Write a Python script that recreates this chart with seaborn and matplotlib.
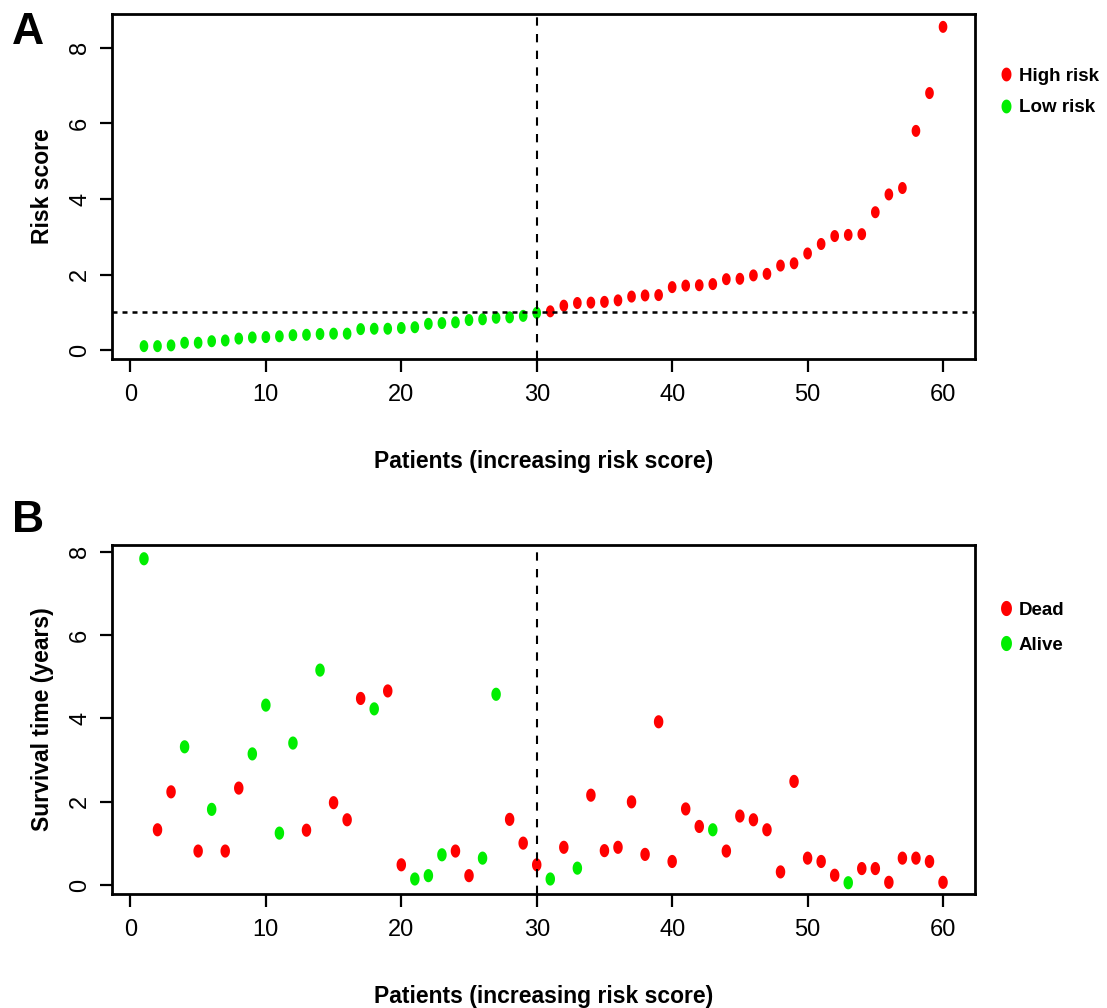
import numpy as np
import pandas as pd
import matplotlib
matplotlib.use("Agg")
import matplotlib.pyplot as plt
from matplotlib.path import Path
import seaborn as sns

sns.set_theme(style="white")
plt.rcParams["font.family"] = ["Liberation Sans", "DejaVu Sans"]
plt.rcParams["text.color"] = "black"
plt.rcParams["axes.labelcolor"] = "black"
plt.rcParams["xtick.color"] = "black"
plt.rcParams["ytick.color"] = "black"

# Risk scores of patients, sorted ascending
risk_score = [0.11, 0.11, 0.13, 0.20, 0.20, 0.24, 0.26, 0.31, 0.34, 0.35,
              0.37, 0.40, 0.41, 0.43, 0.44, 0.44, 0.56, 0.57, 0.57, 0.59,
              0.61, 0.70, 0.72, 0.74, 0.80, 0.82, 0.86, 0.87, 0.91, 0.99,
              1.03, 1.18, 1.25, 1.26, 1.28, 1.32, 1.42, 1.45, 1.46, 1.67,
              1.71, 1.72, 1.75, 1.88, 1.89, 1.98, 2.02, 2.24, 2.30, 2.56,
              2.81, 3.02, 3.05, 3.07, 3.65, 4.12, 4.29, 5.80, 6.80, 8.55]
# Survival time in years, same patient order
survival_time = [7.83, 1.33, 2.24, 3.32, 0.82, 1.82, 0.82, 2.33, 3.15, 4.32,
                 1.25, 3.41, 1.32, 5.16, 1.98, 1.57, 4.48, 4.23, 4.66, 0.49,
                 0.15, 0.23, 0.73, 0.82, 0.23, 0.65, 4.58, 1.58, 1.01, 0.49,
                 0.15, 0.91, 0.41, 2.16, 0.83, 0.91, 2.00, 0.74, 3.92, 0.57,
                 1.83, 1.41, 1.33, 0.82, 1.66, 1.57, 1.33, 0.32, 2.49, 0.65,
                 0.57, 0.24, 0.06, 0.40, 0.40, 0.07, 0.65, 0.65, 0.57, 0.07]
# Vital status (1 = dead, 0 = alive)
status = [0, 1, 1, 0, 1, 0, 1, 1, 0, 0,
          0, 0, 1, 0, 1, 1, 1, 0, 1, 1,
          0, 0, 0, 1, 1, 0, 0, 1, 1, 1,
          0, 1, 0, 1, 1, 1, 1, 1, 1, 1,
          1, 1, 0, 1, 1, 1, 1, 1, 1, 1,
          1, 1, 0, 1, 1, 1, 1, 1, 1, 1]
cutoff = 1.0
split_at = 30

patients = np.arange(1, len(risk_score) + 1)
df = pd.DataFrame({
    "patient": patients,
    "risk": risk_score,
    "time": survival_time,
    "group": ["High risk" if r > cutoff else "Low risk" for r in risk_score],
    "state": ["Dead" if s == 1 else "Alive" for s in status],
})

RED, GREEN = "#ff0000", "#00ee00"

# slightly tall ellipse used as dot marker
t = np.linspace(0, 2 * np.pi, 60)
ell = Path(np.column_stack([0.36 * np.cos(t), 0.5 * np.sin(t)]), closed=True)

fig = plt.figure(figsize=(11.07, 10.08), dpi=100)
W, H = 1107, 1008


def axes_px(l, t_, r, b):
    return fig.add_axes([l / W, 1 - b / H, (r - l) / W, (b - t_) / H])


axA = axes_px(112, 14, 975, 359)
axB = axes_px(112, 545, 975, 894)


def style(ax, ylab):
    for s in ax.spines.values():
        s.set_visible(True)
        s.set_color("black")
        s.set_linewidth(2.0)
    ax.set_xticks([0, 10, 20, 30, 40, 50, 60])
    ax.tick_params(axis="both", direction="out", length=9, width=1.6,
                   labelsize=17, bottom=True, left=True)
    ax.tick_params(axis="x", pad=9)
    ax.tick_params(axis="y", pad=6)
    for lab in ax.get_yticklabels():
        lab.set_rotation(90)
        lab.set_va("center")
    ax.set_xlabel("Patients (increasing risk score)", fontsize=16.5,
                  fontweight="bold", labelpad=32)
    ax.set_ylabel(ylab, fontsize=16.5, fontweight="bold", labelpad=11)
    ax.grid(False)


# Panel A: risk score distribution
sns.scatterplot(data=df, x="patient", y="risk", hue="group",
                hue_order=["High risk", "Low risk"],
                palette={"High risk": RED, "Low risk": GREEN},
                marker=ell, s=75, linewidth=0, ax=axA, legend=True)
axA.set_xlim(-1.36, 62.36)
axA.set_ylim(-0.23, 8.89)
axA.set_yticks([0, 2, 4, 6, 8])
axA.axvline(split_at, color="black", ls=(0, (4, 4)), lw=1.5)
axA.axhline(cutoff, color="black", ls=(0, (2, 2)), lw=1.8)
style(axA, "Risk score")

# Panel B: survival status
sns.scatterplot(data=df, x="patient", y="time", hue="state",
                hue_order=["Dead", "Alive"],
                palette={"Dead": RED, "Alive": GREEN},
                marker=ell, s=90, linewidth=0, ax=axB, legend=True)
axB.set_xlim(-1.36, 62.36)
axB.set_ylim(-0.21, 8.16)
axB.set_yticks([0, 2, 4, 6, 8])
axB.axvline(split_at, color="black", ls=(0, (4, 4)), lw=1.5)
style(axB, "Survival time (years)")

for ax, y, gap in ((axA, 92, 0.75), (axB, 627.5, 0.95)):
    sns.move_legend(ax, "center left", bbox_to_anchor=(998 / W, 1 - y / H),
                    bbox_transform=fig.transFigure, frameon=False, title=None,
                    fontsize=13.5, handlelength=0.8, handletextpad=0.3,
                    borderpad=0, borderaxespad=0, labelspacing=gap,
                    markerscale=1.15)
    for txt in ax.get_legend().get_texts():
        txt.set_fontweight("bold")

fig.text(12 / W, 1 - 32 / H, "A", fontsize=32, fontweight="bold", va="center")
fig.text(12 / W, 1 - 520 / H, "B", fontsize=32, fontweight="bold", va="center")

fig.savefig("out.png", dpi=100)
